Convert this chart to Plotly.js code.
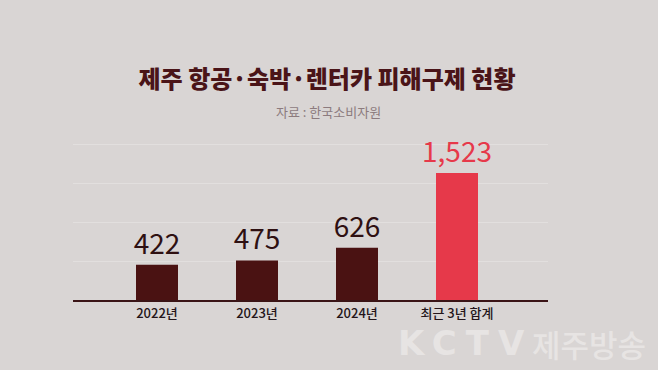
<!DOCTYPE html>
<html>
<head>
<meta charset="utf-8">
<script src="https://cdn.plot.ly/plotly-3.0.1.min.js"></script>
<style>html,body{margin:0;padding:0;background:#d9d5d4;}#chart{width:658px;height:370px;}</style>
</head>
<body>
<div id="chart"></div>
<script>
const categories = ['2022년', '2023년', '2024년', '최근 3년 합계'];
const values = [422, 475, 626, 1523];
const valueLabels = ['422', '475', '626', '1,523'];
const barColors = ['#4a1212', '#4a1212', '#4a1212', '#e6394a'];
const labelColors = ['#2e1012', '#2e1012', '#2e1012', '#e6394a'];

const F = '"Noto Sans CJK KR", "Noto Sans", sans-serif';

const trace = {
  type: 'bar',
  x: categories,
  y: values,
  width: 0.42,
  marker: {color: barColors},
  text: valueLabels,
  textposition: 'outside',
  constraintext: 'none',
  textfont: {family: F, size: 28, color: labelColors},
  cliponaxis: false,
  hoverinfo: 'skip'
};

const layout = {
  width: 658, height: 370,
  paper_bgcolor: '#d9d5d4', plot_bgcolor: '#d9d5d4',
  margin: {l: 73, r: 110, t: 140, b: 70},
  showlegend: false,
  title: {
    text: '제주 항공·숙박·렌터카 피해구제 현황',
    font: {family: F, size: 24, color: '#4a1418', weight: 900},
    x: 327 / 658, xanchor: 'center', xref: 'container',
    y: 1 - 80 / 370, yanchor: 'middle', yref: 'container'
  },
  xaxis: {
    type: 'category',
    range: [-0.84, 3.91],
    showgrid: false, zeroline: false,
    showline: true, linecolor: '#3a1416', linewidth: 2,
    ticks: '', ticklabelstandoff: 0,
    tickfont: {family: F, size: 13, color: '#24151a', weight: 500},
    fixedrange: true
  },
  yaxis: {
    range: [0, 1918],
    dtick: 465, tick0: 0,
    showgrid: true, gridcolor: '#e2dfde', gridwidth: 1,
    zeroline: false, showticklabels: false, ticks: '',
    fixedrange: true
  },
  annotations: [
    {
      text: '자료 : 한국소비자원',
      xref: 'paper', yref: 'paper',
      x: (328 - 73) / 475, y: (300 - 111) / 160,
      xanchor: 'center', yanchor: 'middle', showarrow: false,
      font: {family: F, size: 13, color: '#8c7b7e'}
    },
    {
      text: '<span style="letter-spacing:9px">KCTV</span>',
      xref: 'paper', yref: 'paper',
      x: (396 - 73) / 475, y: (300 - 343) / 160,
      xanchor: 'left', yanchor: 'middle', showarrow: false,
      font: {family: '"DejaVu Sans", sans-serif', size: 34, color: '#e7e4e3', weight: 'bold'}
    },
    {
      text: '제주방송',
      xref: 'paper', yref: 'paper',
      x: (648 - 73) / 475, y: (300 - 343) / 160,
      xanchor: 'right', yanchor: 'middle', showarrow: false,
      font: {family: F, size: 31, color: '#e7e4e3', weight: 500}
    }
  ],
  bargap: 0.58
};

Plotly.newPlot('chart', [trace], layout, {displayModeBar: false, staticPlot: true});
</script>
</body>
</html>
